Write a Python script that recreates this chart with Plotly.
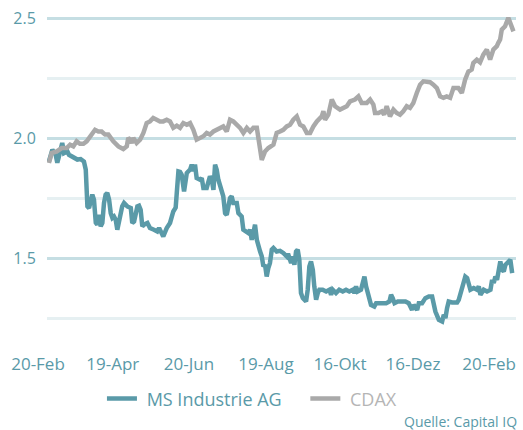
import plotly.graph_objects as go

# session index (trading days since start) and values
ms_t = [0.5, 2.4, 4.2, 5.1, 6.0, 7.8, 8.8, 10.6, 11.5, 14.3, 16.1, 17.9, 19.7, 20.7, 21.6, 22.5, 24.3, 25.2, 26.2, 27.0,
        28.0, 28.9, 29.8, 30.7, 31.6, 32.5, 33.5, 34.4, 35.3, 36.2, 37.1, 38.0, 38.9, 39.9, 40.7, 41.7, 43.5, 45.4, 46.2, 47.2,
        48.1, 49.0, 49.9, 50.8, 51.7, 52.6, 54.5, 55.9, 58.1, 59.9, 60.9, 61.8, 63.2, 65.1, 66.9, 68.7, 70.0, 70.6, 71.5, 72.4,
        73.3, 74.6, 76.1, 77.9, 78.8, 79.7, 80.6, 81.5, 83.4, 84.3, 85.2, 87.0, 88.8, 89.8, 90.7, 91.6, 92.5, 93.4, 95.3, 96.1,
        97.1, 98.0, 99.8, 100.7, 101.6, 103.5, 104.4, 106.2, 107.1, 109.0, 109.8, 110.8, 111.7, 112.6, 113.5, 114.5, 115.3, 116.3, 117.2, 118.1,
        119.0, 119.9, 120.8, 121.7, 122.7, 123.6, 125.4, 127.2, 129.0, 130.9, 131.6, 133.3, 134.2, 135.1, 136.0, 136.9, 137.8, 138.7, 139.7, 141.5,
        142.4, 143.3, 144.2, 145.2, 146.0, 147.0, 147.9, 148.8, 150.6, 152.5, 154.3, 155.2, 156.1, 157.9, 159.7, 161.6, 163.4, 165.2, 167.1, 168.0,
        168.9, 169.8, 171.6, 172.5, 173.5, 174.4, 175.3, 176.2, 177.1, 178.9, 179.9, 181.7, 183.5, 185.4, 187.2, 188.1, 189.0, 190.0, 191.8, 194.1,
        196.0, 197.8, 198.7, 199.6, 200.5, 202.4, 203.3, 205.1, 206.9, 208.8, 210.6, 211.5, 212.4, 214.3, 216.1, 217.0, 217.9, 218.8, 219.7, 221.6,
        224.3, 225.2, 226.1, 227.0, 227.9, 228.8, 229.8, 231.6, 233.4, 235.2, 236.2, 237.1, 238.9, 240.7, 242.6, 243.5, 244.4, 245.3, 246.2, 247.1,
        248.0, 249.0, 249.9, 250.8, 252.6, 253.5, 254.5]
ms_v = [1.905, 1.954, 1.933, 1.900, 1.926, 1.982, 1.940, 1.947, 1.933, 1.921, 1.913, 1.915, 1.905, 1.871, 1.718, 1.711, 1.767, 1.746, 1.650, 1.642,
        1.683, 1.635, 1.649, 1.732, 1.767, 1.774, 1.746, 1.690, 1.670, 1.676, 1.663, 1.621, 1.663, 1.704, 1.718, 1.732, 1.718, 1.711, 1.649, 1.655,
        1.683, 1.718, 1.721, 1.704, 1.635, 1.642, 1.649, 1.628, 1.621, 1.614, 1.628, 1.614, 1.593, 1.628, 1.649, 1.697, 1.713, 1.774, 1.864, 1.862,
        1.850, 1.780, 1.857, 1.871, 1.892, 1.864, 1.892, 1.836, 1.829, 1.836, 1.795, 1.795, 1.843, 1.829, 1.787, 1.892, 1.871, 1.829, 1.780, 1.760,
        1.690, 1.683, 1.753, 1.760, 1.732, 1.732, 1.690, 1.676, 1.621, 1.614, 1.607, 1.621, 1.579, 1.607, 1.642, 1.579, 1.551, 1.530, 1.510, 1.468,
        1.475, 1.426, 1.461, 1.482, 1.538, 1.545, 1.530, 1.533, 1.524, 1.510, 1.521, 1.482, 1.510, 1.475, 1.530, 1.538, 1.496, 1.357, 1.336, 1.322,
        1.371, 1.468, 1.489, 1.454, 1.385, 1.329, 1.357, 1.371, 1.371, 1.364, 1.371, 1.350, 1.371, 1.357, 1.371, 1.364, 1.371, 1.364, 1.371, 1.357,
        1.385, 1.364, 1.371, 1.399, 1.426, 1.385, 1.357, 1.329, 1.308, 1.301, 1.315, 1.315, 1.315, 1.315, 1.322, 1.350, 1.336, 1.315, 1.322, 1.322,
        1.322, 1.315, 1.294, 1.287, 1.308, 1.287, 1.315, 1.315, 1.336, 1.343, 1.343, 1.315, 1.280, 1.246, 1.239, 1.267, 1.253, 1.294, 1.322, 1.318,
        1.318, 1.329, 1.357, 1.371, 1.412, 1.426, 1.420, 1.371, 1.378, 1.371, 1.385, 1.350, 1.371, 1.364, 1.371, 1.412, 1.399, 1.426, 1.412, 1.468,
        1.489, 1.454, 1.447, 1.475, 1.489, 1.496, 1.440]

cdax_t = [0.5, 2.0, 4.8, 7.5, 10.3, 12.1, 13.9, 15.7, 17.5, 19.4, 21.2, 23.0, 25.8, 27.6, 29.4, 31.3, 33.1, 35.8, 38.6, 41.3,
          43.2, 44.0, 45.0, 45.9, 46.8, 48.6, 50.5, 52.3, 54.1, 55.9, 57.7, 59.6, 61.4, 63.2, 65.1, 66.9, 68.7, 70.6, 72.4, 74.2,
          76.1, 77.9, 79.7, 81.5, 83.4, 85.2, 87.0, 88.8, 90.7, 92.5, 94.3, 96.1, 98.0, 99.8, 101.6, 103.5, 105.3, 107.1, 109.0, 110.8,
          112.6, 114.5, 115.3, 116.3, 117.2, 119.0, 120.8, 123.6, 125.4, 127.2, 129.0, 130.9, 132.7, 134.5, 136.4, 138.2, 140.0, 141.9, 143.7, 145.5,
          147.4, 150.1, 151.0, 151.9, 153.7, 155.6, 157.4, 160.1, 161.9, 163.8, 165.6, 168.3, 170.2, 172.0, 174.8, 176.6, 178.4, 179.3, 181.2, 183.0,
          184.3, 185.7, 187.5, 189.4, 191.2, 193.0, 194.8, 196.7, 198.5, 200.3, 202.2, 204.0, 205.8, 207.7, 209.5, 211.3, 213.2, 215.0, 216.8, 218.6,
          220.5, 222.3, 225.0, 226.9, 228.7, 230.5, 232.3, 233.2, 235.1, 236.9, 238.7, 240.6, 242.4, 244.2, 246.1, 246.9, 247.9, 248.8, 250.6, 252.4,
          253.4, 254.3, 255.2]
cdax_v = [1.899, 1.940, 1.947, 1.961, 1.961, 1.975, 1.968, 1.989, 1.979, 1.979, 1.989, 2.010, 2.037, 2.030, 2.030, 2.017, 2.017, 1.989, 1.968, 1.957,
          1.968, 2.003, 1.996, 1.982, 2.003, 1.982, 1.996, 2.024, 2.065, 2.072, 2.086, 2.079, 2.072, 2.072, 2.079, 2.072, 2.045, 2.054, 2.045, 2.065,
          2.058, 2.065, 2.037, 1.996, 2.003, 2.010, 2.024, 2.017, 2.030, 2.037, 2.045, 2.051, 2.030, 2.079, 2.072, 2.058, 2.045, 2.024, 2.045, 2.030,
          2.045, 2.045, 1.996, 1.954, 1.912, 1.947, 1.961, 1.975, 2.024, 2.030, 2.037, 2.051, 2.058, 2.079, 2.093, 2.058, 2.051, 2.024, 2.024, 2.051,
          2.072, 2.093, 2.114, 2.079, 2.100, 2.163, 2.135, 2.121, 2.128, 2.135, 2.155, 2.163, 2.176, 2.149, 2.149, 2.163, 2.142, 2.107, 2.107, 2.114,
          2.100, 2.135, 2.093, 2.121, 2.107, 2.100, 2.114, 2.135, 2.128, 2.149, 2.190, 2.225, 2.239, 2.239, 2.235, 2.225, 2.211, 2.176, 2.170, 2.176,
          2.170, 2.211, 2.211, 2.190, 2.246, 2.280, 2.288, 2.315, 2.329, 2.318, 2.350, 2.371, 2.329, 2.371, 2.385, 2.399, 2.413, 2.454, 2.468, 2.503,
          2.483, 2.461, 2.447]

tick_pos = [0, 41, 82.8, 125, 165.6, 205.6, 247.3]
tick_text = ["20-Feb", "19-Apr", "20-Jun", "19-Aug", "16-Okt", "16-Dez", "20-Feb"]

TEAL = "#5a9aa8"
GREY = "#a9a9a9"
FONT = "Open Sans"

fig = go.Figure()
fig.add_trace(go.Scatter(x=ms_t, y=ms_v, mode="lines",
                         name="\u00a0MS Industrie AG\u00a0\u00a0\u00a0\u00a0",
                         line=dict(color=TEAL, width=4.5)))
fig.add_trace(go.Scatter(x=cdax_t, y=cdax_v, mode="lines",
                         name="<span style='color:#b5b5b5'>\u00a0CDAX</span>",
                         line=dict(color=GREY, width=4.5)))

fig.update_layout(
    width=523, height=430,
    margin=dict(l=47, r=7, t=9, b=104),
    paper_bgcolor="white", plot_bgcolor="white",
    font=dict(family=FONT, color=TEAL, size=16),
    showlegend=True,
    legend=dict(orientation="h", x=0.437, xanchor="center", y=-0.23, yanchor="middle",
                font=dict(size=18, color=TEAL), itemwidth=30),
    xaxis=dict(range=[-0.55, 256.6], tickvals=tick_pos, ticktext=tick_text,
               showgrid=False, zeroline=False, showline=False,
               ticks="outside", ticklen=23, tickcolor="rgba(0,0,0,0)",
               ticklabelshift=-10, tickfont=dict(size=17, color=TEAL)),
    yaxis=dict(range=[1.22, 2.54], tick0=0, dtick=0.5, tickformat=".1f",
               showgrid=True, gridcolor="#c5dee3", gridwidth=2.5,
               zeroline=False, showline=False,
               ticks="outside", ticklen=7, tickcolor="rgba(0,0,0,0)",
               tickfont=dict(size=16, color=TEAL),
               minor=dict(dtick=0.25, tick0=0, showgrid=True, gridcolor="#e6f0f2", gridwidth=2.5)),
    annotations=[dict(text="Quelle: Capital IQ", xref="paper", yref="paper",
                      x=1.006, y=-0.3, xanchor="right", yanchor="middle",
                      showarrow=False, font=dict(size=14, color=TEAL))],
)

fig.write_html("out.html", config={"displayModeBar": False},
               post_script="document.body.style.margin='0';document.body.style.overflow='hidden';")
